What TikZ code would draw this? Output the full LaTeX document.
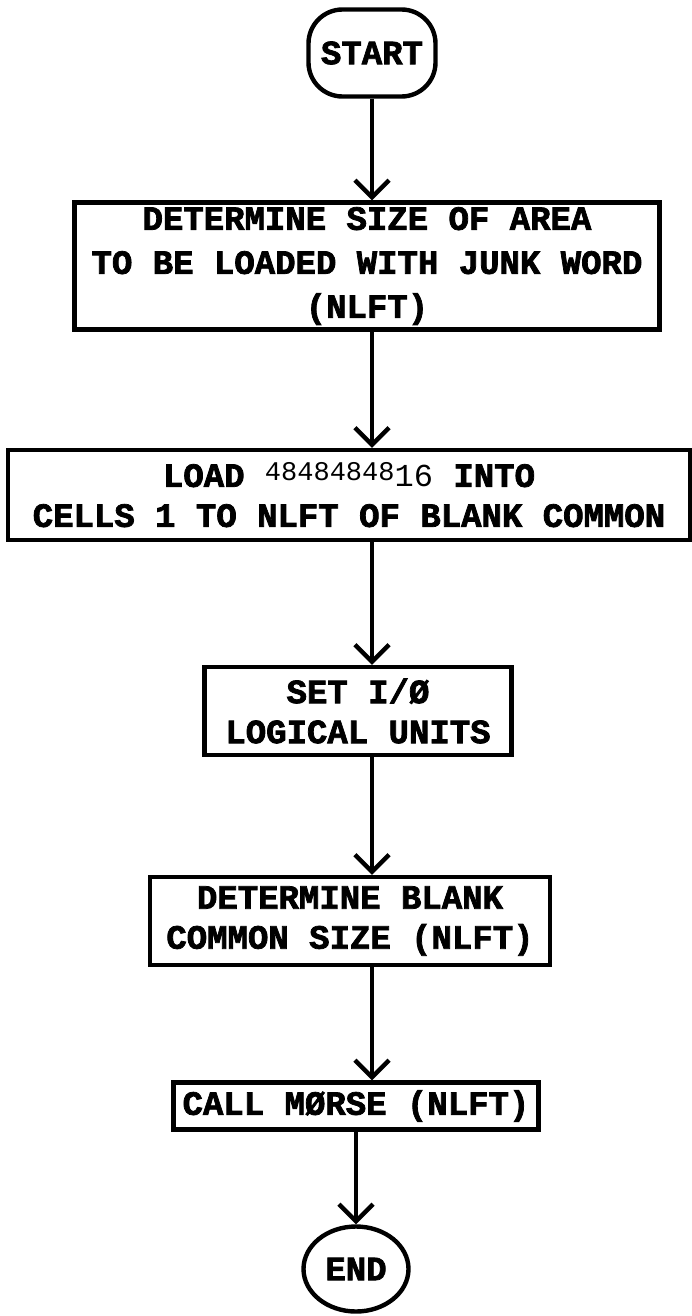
\documentclass[tikz,border=0pt]{standalone}
\usepackage{fontspec}
\setmainfont{Liberation Mono}[BoldFeatures={FakeBold=2.2}]
\usetikzlibrary{arrows.meta,shapes.geometric}
\begin{document}
\begin{tikzpicture}[x=1pt,y=-1pt,
  lw/.style={line width=4.4pt},
  stepbox/.style={draw, lw, inner sep=0pt, align=center,
    font=\fontsize{34}{40}\selectfont\bfseries},
  termbox/.style={draw, lw, inner sep=0pt, align=center,
    font=\fontsize{34}{40}\selectfont\bfseries},
  flow/.style={lw, -{Straight Barb[length=17pt,width=34pt]}}]
\useasboundingbox (0,0) rectangle (692,1316);
\fill[white] (0,0) rectangle (692,1316);

\node[termbox, rounded corners=34pt, minimum width=127pt, minimum height=87pt] (start) at (372,53) {START};

\node[stepbox, minimum width=585pt, minimum height=127pt,
  font=\fontsize{34}{44}\selectfont\bfseries] (b1) at (367,266)
  {DETERMINE SIZE OF AREA\\TO BE LOADED WITH JUNK WORD\\(NLFT)};

\node[stepbox, minimum width=682pt, minimum height=90pt,
  font=\fontsize{34}{40}\selectfont\bfseries] (b2) at (349,495)
  {LOAD {\mdseries\raisebox{6pt}{\fontsize{27}{27}\selectfont 48484848}\fontsize{32}{32}\selectfont 16} INTO\\CELLS 1 TO NLFT OF BLANK COMMON};

\node[stepbox, minimum width=307pt, minimum height=88pt] (b3) at (358,711)
  {SET I/Ø\\LOGICAL UNITS};

\node[stepbox, minimum width=400pt, minimum height=88pt] (b4) at (350,921)
  {DETERMINE BLANK\\COMMON SIZE (NLFT)};

\node[stepbox, minimum width=365pt, minimum height=47pt] (b5) at (356,1106)
  {CALL MØRSE (NLFT)};

\node[termbox, ellipse, minimum width=105pt, minimum height=85pt] (end) at (356,1269) {END};

\draw[flow] (start.south) -- (start.south |- b1.north);
\draw[flow] (start.south |- b1.south) -- (start.south |- b2.north);
\draw[flow] (start.south |- b2.south) -- (start.south |- b3.north);
\draw[flow] (start.south |- b3.south) -- (start.south |- b4.north);
\draw[flow] (start.south |- b4.south) -- (start.south |- b5.north);
\draw[flow] (end.north |- b5.south) -- (end.north);
\end{tikzpicture}
\end{document}
